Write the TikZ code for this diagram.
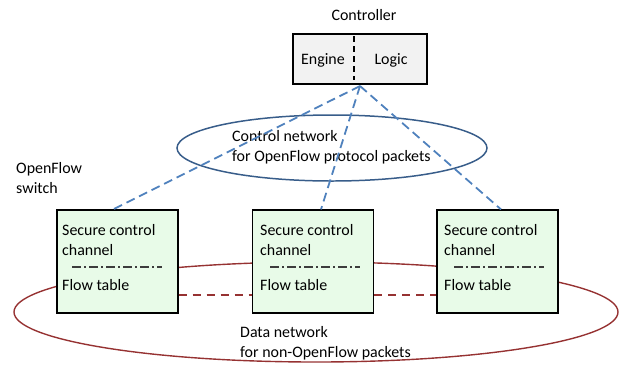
\documentclass[tikz,border=0pt]{standalone}
\usepackage{fontspec}
\setmainfont{Carlito}
\definecolor{datared}{RGB}{150,50,50}
\definecolor{ctrlblue}{RGB}{79,129,189}
\definecolor{netblue}{RGB}{56,93,138}
\definecolor{swgreen}{RGB}{232,251,232}
\definecolor{ctrlgray}{RGB}{242,242,242}
\definecolor{sepgray}{RGB}{60,60,60}
\begin{document}
\begin{tikzpicture}[x=1bp,y=-1bp,
  every node/.style={font=\fontsize{16}{20}\selectfont},
  switchbox/.style={draw=black,line width=1.2pt,fill=swgreen,minimum width=121bp,minimum height=103bp,inner sep=0pt},
  ctrlbox/.style={draw=black,line width=1.2pt,fill=ctrlgray,minimum width=134bp,minimum height=50bp,inner sep=0pt},
  ctrllink/.style={draw=ctrlblue,line width=1.8pt,dash pattern=on 9bp off 5bp},
  datalink/.style={draw=datared,line width=1.3pt,dash pattern=on 8bp off 6bp},
  sep/.style={draw=sepgray,line width=1.6pt,dash pattern=on 9bp off 3bp on 2bp off 3bp},
  txt/.style={anchor=west,inner sep=0pt,align=left}
]
\useasboundingbox (0,0) rectangle (621,373);
% data network
\draw[datared,line width=1.4pt] (316,312) ellipse [x radius=302, y radius=50];
\node[txt] (dtxt) at (240,343) {Data network\\for non-OpenFlow packets};
% switches
\node[switchbox] (sw1) at (117.5,261.5) {};
\node[switchbox] (sw2) at (313,261.5) {};
\node[switchbox] (sw3) at (497.5,261.5) {};
\draw[datalink] (sw1.east |- 0,295) -- (sw2.west |- 0,295);
\draw[datalink] (sw2.east |- 0,295) -- (sw3.west |- 0,295);
\foreach \s/\x in {sw1/62,sw2/260,sw3/444}{
  \node[txt] at (\x,240) {Secure control\\channel};
  \draw[sep] (\x+10,267) -- (\x+100,267);
  \node[txt] at (\x,285) {Flow table};
}
% control network
\draw[netblue,line width=1.5pt] (332,148) ellipse [x radius=155, y radius=33];
\node[txt] (ctxt) at (232,147) {Control network\\for OpenFlow protocol packets};
% controller
\node (ctrllabel) at (364,15) {Controller};
\node[ctrlbox] (ctrl) at (360,59) {};
\node (eng) at (323,60) {Engine};
\node (logic) at (391,60) {Logic};
\draw[black,line width=1.2pt,dash pattern=on 6bp off 4bp] (354,36) -- (354,80);
\coordinate (hub) at (360,86);
\draw[ctrllink] (hub) -- (sw1.north -| 113,0);
\draw[ctrllink] (hub) -- (sw2.north -| 321,0);
\draw[ctrllink] (hub) -- (sw3.north -| 501,0);
\node[txt] (ofs) at (16,178) {OpenFlow\\switch};
\end{tikzpicture}
\end{document}
